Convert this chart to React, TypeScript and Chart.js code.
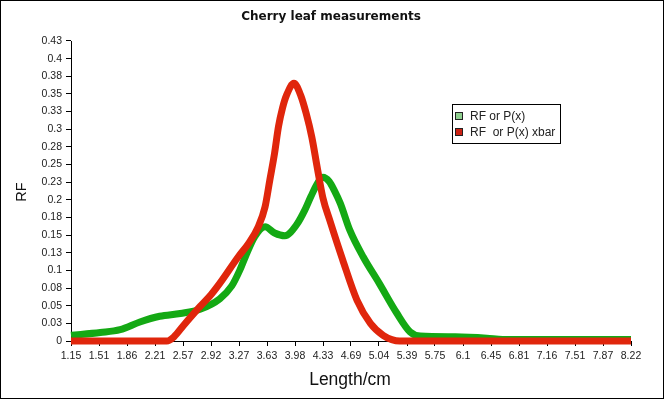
import { useRef, useEffect } from 'react';
import { Chart, registerables } from 'chart.js';

Chart.register(...registerables);

// category tick labels along the x axis (Length/cm)
const xTickValues = [1.15, 1.5035, 1.857, 2.2105, 2.564, 2.9175, 3.271, 3.6245, 3.978, 4.3315, 4.685, 5.0385, 5.392, 5.7455, 6.099, 6.4525, 6.806, 7.1595, 7.513, 7.8665, 8.22];
const xTickLabels = ['1.15', '1.51', '1.86', '2.21', '2.57', '2.92', '3.27', '3.63', '3.98', '4.33', '4.69', '5.04', '5.39', '5.75', '6.1', '6.45', '6.81', '7.16', '7.51', '7.87', '8.22'];

// y tick labels as printed (step 0.025, rounded to 2 places)
const yTickLabels = ['0', '0.03', '0.05', '0.08', '0.1', '0.13', '0.15', '0.18', '0.2', '0.23', '0.25', '0.28', '0.3', '0.33', '0.35', '0.38', '0.4', '0.43'];

// green series: RF or P(x)
const rfX = [1.15, 1.52, 1.77, 2.02, 2.27, 2.53, 2.78, 3.03, 3.18, 3.28, 3.35, 3.47, 3.6, 3.72, 3.85, 4.0, 4.1, 4.18, 4.26, 4.33, 4.41, 4.48, 4.55, 4.67, 4.84, 5.04, 5.26, 5.43, 5.56, 6.0, 6.4, 6.6, 8.22];
const rfY = [0.008, 0.012, 0.016, 0.027, 0.035, 0.039, 0.045, 0.06, 0.078, 0.1, 0.119, 0.148, 0.162, 0.153, 0.149, 0.165, 0.185, 0.205, 0.223, 0.232, 0.226, 0.212, 0.195, 0.157, 0.119, 0.082, 0.04, 0.013, 0.007, 0.006, 0.004, 0.002, 0.002];

// red series: RF or P(x) xbar
const xbarX = [1.15, 2.21, 2.36, 2.45, 2.57, 2.78, 2.92, 3.03, 3.26, 3.39, 3.515, 3.6, 3.66, 3.72, 3.77, 3.82, 3.87, 3.965, 4.05, 4.12, 4.19, 4.26, 4.33, 4.42, 4.58, 4.76, 4.93, 5.09, 5.2, 5.3, 8.22];
const xbarY = [0, 0, 0, 0.006, 0.022, 0.049, 0.066, 0.082, 0.119, 0.138, 0.162, 0.19, 0.228, 0.266, 0.304, 0.33, 0.348, 0.365, 0.348, 0.322, 0.289, 0.245, 0.203, 0.17, 0.115, 0.058, 0.025, 0.008, 0.002, 0, 0];

const seriesLabels = ['RF or P(x)', 'RF  or P(x) xbar'];
const legendSwatch = ['#8fcf8f', '#cc2214'];

const FONT = '"Liberation Sans", Arial, sans-serif';

// title, axis titles, boxed legend and outer frame
const decorations = {
  id: 'decorations',
  afterDraw(chart: Chart) {
    const ctx = chart.ctx;
    ctx.save();
    ctx.strokeStyle = '#000';
    ctx.lineWidth = 1;
    ctx.strokeRect(0.5, 0.5, 663, 398);

    ctx.fillStyle = '#111';
    ctx.font = 'bold 12px "DejaVu Sans", sans-serif';
    ctx.textAlign = 'center';
    ctx.textBaseline = 'middle';
    ctx.fillText('Cherry leaf measurements', 331, 17);

    ctx.font = '17.5px ' + FONT;
    ctx.textBaseline = 'alphabetic';
    ctx.fillText('Length/cm', 350, 385);

    ctx.save();
    ctx.translate(26, 192);
    ctx.rotate(-Math.PI / 2);
    ctx.font = '14.5px ' + FONT;
    ctx.fillText('RF', 0, 0);
    ctx.restore();

    // legend box
    ctx.fillStyle = '#fff';
    ctx.fillRect(452, 104, 108, 39);
    ctx.strokeRect(452.5, 104.5, 108, 39);
    ctx.font = '12px ' + FONT;
    ctx.textAlign = 'left';
    ctx.textBaseline = 'middle';
    chart.data.datasets.forEach((ds, i) => {
      const y = 116 + i * 16;
      ctx.fillStyle = legendSwatch[i];
      ctx.fillRect(455, y - 4, 8, 8);
      ctx.strokeStyle = '#222';
      ctx.strokeRect(455.5, y - 3.5, 7, 7);
      ctx.fillStyle = '#222';
      ctx.fillText(ds.label as string, 470, y + 1);
    });
    ctx.restore();
  },
};

const App = () => {
  const canvasRef = useRef<HTMLCanvasElement | null>(null);
  const chartRef = useRef<Chart | null>(null);

  useEffect(() => {
    if (!canvasRef.current) return;
    if (chartRef.current) chartRef.current.destroy();

    const tickFont = { family: FONT, size: 10.5 };

    chartRef.current = new Chart(canvasRef.current, {
      type: 'line',
      data: {
        datasets: [
          {
            label: seriesLabels[0],
            data: rfX.map((x, i) => ({ x, y: rfY[i] })),
            borderColor: '#14a914',
            borderWidth: 7,
            pointRadius: 0,
            cubicInterpolationMode: 'monotone',
            fill: false,
            clip: false,
            order: 1,
          },
          {
            label: seriesLabels[1],
            data: xbarX.map((x, i) => ({ x, y: xbarY[i] })),
            borderColor: '#e0260c',
            borderWidth: 7,
            pointRadius: 0,
            cubicInterpolationMode: 'monotone',
            fill: false,
            clip: false,
            order: 0,
          },
        ],
      },
      options: {
        responsive: false,
        animation: false,
        devicePixelRatio: 1,
        layout: { padding: { top: 41, right: 34, left: 0, bottom: 0 } },
        plugins: {
          legend: { display: false },
          title: { display: false },
          tooltip: { enabled: false },
        },
        scales: {
          x: {
            type: 'linear',
            min: xTickValues[0],
            max: xTickValues[xTickValues.length - 1],
            afterBuildTicks: (scale) => {
              scale.ticks = xTickValues.map((value) => ({ value }));
            },
            afterFit: (scale) => {
              scale.height = 59;
            },
            grid: { display: true, drawOnChartArea: false, tickLength: 5, color: '#000' },
            border: { display: true, color: '#000' },
            ticks: {
              autoSkip: false,
              maxRotation: 0,
              padding: 4,
              color: '#222',
              font: tickFont,
              callback: (_v, i) => xTickLabels[i],
            },
          },
          y: {
            type: 'linear',
            min: 0,
            max: 0.425,
            afterBuildTicks: (scale) => {
              scale.ticks = yTickLabels.map((_l, i) => ({ value: i * 0.025 }));
            },
            afterFit: (scale) => {
              scale.width = 71;
            },
            grid: { display: true, drawOnChartArea: false, tickLength: 5, color: '#000' },
            border: { display: true, color: '#000' },
            ticks: {
              autoSkip: false,
              padding: 4,
              color: '#222',
              font: tickFont,
              callback: (_v, i) => yTickLabels[i],
            },
          },
        },
      },
      plugins: [decorations],
    });

    return () => {
      if (chartRef.current) {
        chartRef.current.destroy();
        chartRef.current = null;
      }
    };
  }, []);

  return (
    <div style={{ position: 'absolute', left: 0, top: 0, width: 665, height: 400, background: '#fff' }}>
      <canvas ref={canvasRef} width={665} height={400} />
    </div>
  );
};

export default App;
